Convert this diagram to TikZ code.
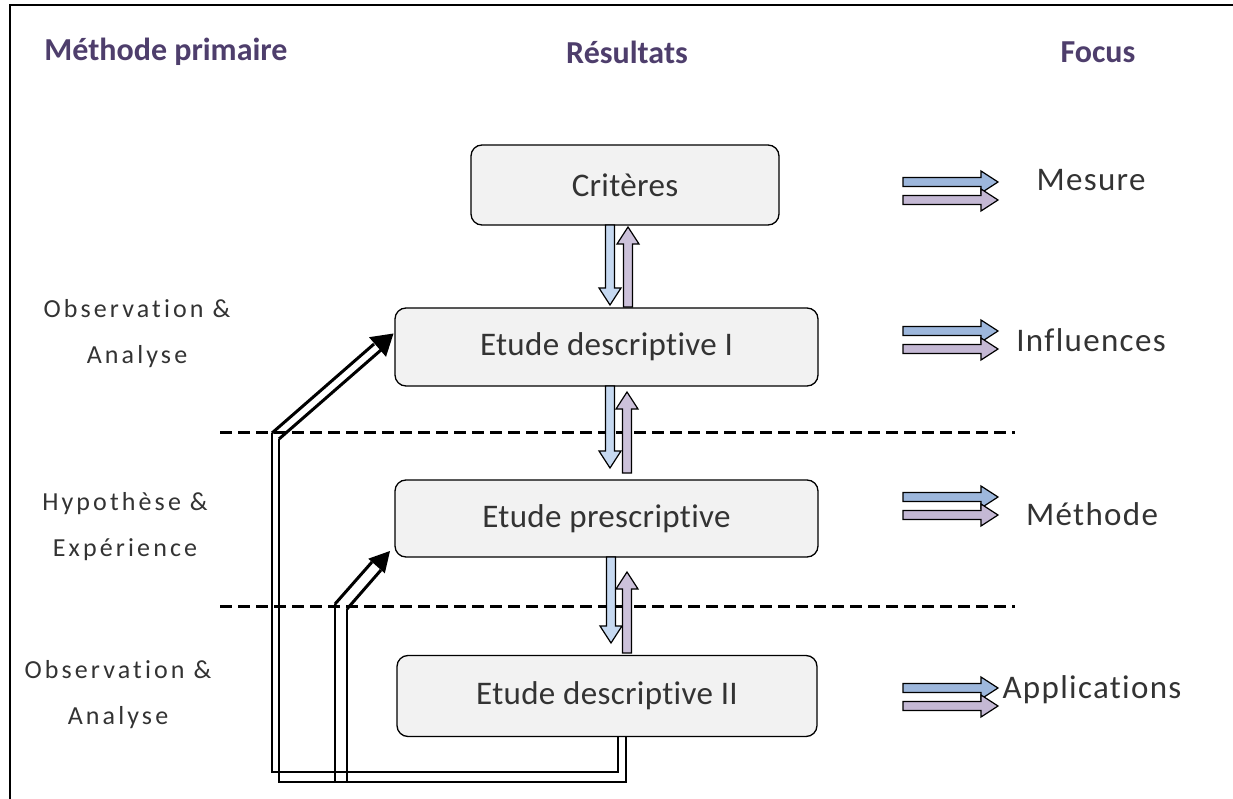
\documentclass[tikz,border=0pt]{standalone}
\usepackage{fontspec}
\setmainfont{Carlito}[Ligatures=NoCommon]
\usetikzlibrary{calc}
\definecolor{boxfill}{HTML}{F2F2F2}
\definecolor{headc}{HTML}{4E3E6C}
\definecolor{txtc}{HTML}{333333}
\definecolor{downc}{HTML}{C6D9F1}
\definecolor{upc}{HTML}{CCC1DA}
\definecolor{ftop}{HTML}{9DB7DC}
\definecolor{fbot}{HTML}{C4B8D4}
\tikzset{
  stepbox/.style={draw, line width=1.3pt, rounded corners=11pt, fill=boxfill, text=txtc,
     font=\fontsize{33}{38}\selectfont\addfontfeatures{LetterSpace=1}},
  header/.style={text=headc, font=\fontsize{32}{36}\selectfont\bfseries},
  sidelabel/.style={text=txtc, align=center, font=\fontsize{26}{46}\selectfont\addfontfeatures{LetterSpace=12}},
  focuslabel/.style={text=txtc, font=\fontsize{33}{38}\selectfont\addfontfeatures{LetterSpace=4}},
  sepline/.style={line width=3pt, dash pattern=on 12pt off 6pt},
  fbline/.style={line width=1.5pt},
  fbdiag/.style={line width=3pt},
  pics/blk/.style 2 args={code={
    \draw[fill=#2, line width=1.2pt] (0,-4.5) -- ({#1-17},-4.5) -- ({#1-17},-11) -- (#1,0)
       -- ({#1-17},11) -- ({#1-17},4.5) -- (0,4.5) -- cycle;}},
}
\begin{document}
\begin{tikzpicture}[x=1pt,y=-1pt]
\useasboundingbox (0,0) rectangle (1233,799);
% frame (top and left only)
\draw[line width=2pt] (1233,5) -- (10,5) -- (10,799);

% headers
\node[header] (h1) at (166,52) {Méthode primaire};
\node[header] (h2) at (627,52) {Résultats};
\node[header] (h3) at (1098,52) {Focus};

% separators
\draw[sepline] (220,432) -- (1015,432);
\draw[sepline] (220,606) -- (1015,606);

% boxes
\node[stepbox, minimum width=308pt, minimum height=80pt] (crit) at (625,185) {Critères};
\node[stepbox, minimum width=423pt, minimum height=78pt] (d1) at (606.5,347) {Etude descriptive I};
\node[stepbox, minimum width=423pt, minimum height=77pt] (presc) at (606.5,518.5) {Etude prescriptive};
\node[stepbox, minimum width=420pt, minimum height=81pt] (d2) at (607,696) {Etude descriptive II};

% vertical arrows between boxes
\pic[rotate=-90] at (610,225) {blk={80}{downc}};
\pic[rotate=90]  at (628,307) {blk={80}{upc}};
\pic[rotate=-90] at (610,386) {blk={82}{downc}};
\pic[rotate=90]  at (627,473) {blk={81}{upc}};
\pic[rotate=-90] at (611,557) {blk={86}{downc}};
\pic[rotate=90]  at (627,653) {blk={81}{upc}};

% side labels
\node[sidelabel] (l1) at (137,334) {Observation \&\\Analyse};
\node[sidelabel] (l2) at (125,527) {Hypothèse \&\\Expérience};
\node[sidelabel] (l3) at (118,695) {Observation \&\\Analyse};

% focus arrows
\foreach \yy in {182, 331, 497, 688}{
  \pic at (903,\yy) {blk={95}{ftop}};
  \pic at (903,\yy+18) {blk={95}{fbot}};
}
\node[focuslabel] (m1) at (1091,180) {Mesure};
\node[focuslabel] (m2) at (1091,340) {Influences};
\node[focuslabel] (m3) at (1092,514) {Méthode};
\node[focuslabel] (m4) at (1092,690) {Applications};

% feedback loops
\coordinate (a0) at (618,737);
\coordinate (b0) at (626,737);
\coordinate (a1) at (618,772);
\coordinate (b1) at (626,782);
\coordinate (a2) at (272,772);
\coordinate (b2) at (279,782);
\coordinate (a3) at (272,433);
\coordinate (b3) at (279,439);
\coordinate (a4) at (374,344);
\coordinate (b4) at (381,350);
\draw[fbline] (a0) -- (a1) -- (a2) -- (a3);
\draw[fbline] (b0) -- (b1) -- (b2) -- (b3);
\draw[fbdiag] (a3) -- (a4);
\draw[fbdiag] (b3) -- (b4);
\fill (393.5,333.5) -- (386,356.8) -- (369,337.2) -- cycle;

\coordinate (c1) at (335,782);
\coordinate (e1) at (347,782);
\coordinate (c2) at (335,604);
\coordinate (e2) at (347,609);
\coordinate (c3) at (372,562);
\coordinate (e3) at (381,570);
\draw[fbline] (c1) -- (c2);
\draw[fbline] (e1) -- (e2);
\draw[fbdiag] (c2) -- (c3);
\draw[fbdiag] (e2) -- (e3);
\fill (390,551) -- (384.8,573.3) -- (368.3,558.7) -- cycle;
\end{tikzpicture}
\end{document}
